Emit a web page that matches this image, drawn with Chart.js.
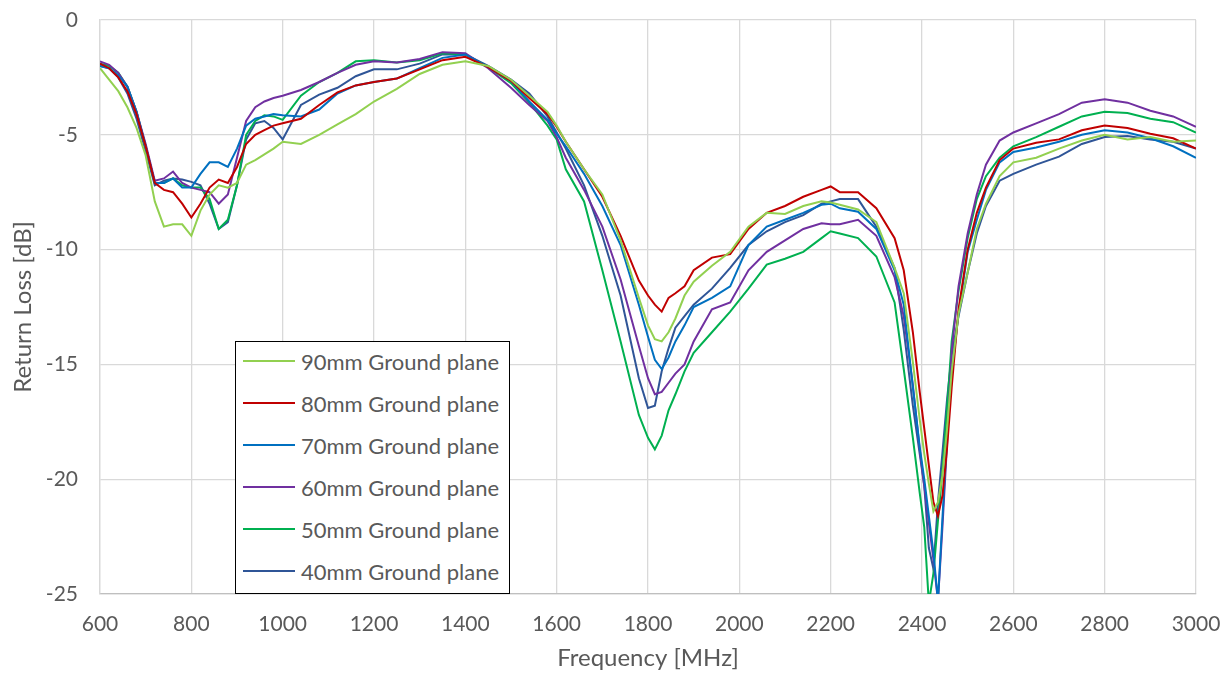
<!DOCTYPE html>
<html>
<head>
<meta charset="utf-8">
<script src="https://cdn.jsdelivr.net/npm/chart.js@4.4.1/dist/chart.umd.min.js"></script>
<style>
  html, body { margin:0; padding:0; background:#fff; }
  #wrap { position:relative; width:1231px; height:677px; }
  #legend {
    position:absolute; left:235px; top:341px; width:275px; height:253px;
    background:#fff; border:1.5px solid #000; box-sizing:border-box;
    font-family:'Lato', sans-serif; font-size:22px; color:#595959;
    padding-top:0;
  }
  .row { display:flex; align-items:center; height:42px; }
  .row:first-child { margin-top:-2px; }
  .swatch { width:52px; height:2px; margin-left:7px; margin-right:6px; }
</style>
</head>
<body>
<div id="wrap">
  <canvas id="chart" width="1231" height="677"></canvas>
  <div id="legend"></div>
</div>
<script>
// Return loss vs frequency for different ground plane lengths

const freqMHz = [600,620,640,660,680,700,720,740,760,780,800,820,840,860,880,900,920,940,960,980,1000,
  1040,1080,1120,1160,1200,1250,1300,1350,1400,1450,1500,1540,1580,1600,1620,1660,1700,1740,1780,1800,
  1815,1830,1845,1860,1880,1900,1940,1980,2020,2060,2100,2140,2180,2200,2220,2260,2300,2340,2360,2380,
  2395,2405,2415,2425,2435,2445,2455,2465,2480,2500,2520,2540,2570,2600,2650,2700,2750,2800,2850,2900,2950,3000];

const gp90 = [-2.1,-2.6,-3.1,-3.8,-4.7,-5.9,-7.9,-9.0,-8.9,-8.9,-9.4,-8.3,-7.6,-7.2,-7.3,-7.1,-6.3,-6.1,-5.85,-5.6,-5.3,
  -5.4,-5.0,-4.55,-4.1,-3.55,-3.0,-2.35,-1.95,-1.8,-2.0,-2.6,-3.3,-4.0,-4.6,-5.3,-6.5,-7.6,-9.6,-12.1,-13.3,
  -13.9,-14.0,-13.6,-13.0,-12.0,-11.4,-10.7,-10.1,-9.0,-8.4,-8.45,-8.1,-7.9,-7.95,-8.05,-8.25,-8.8,-10.8,-11.9,-14.9,
  -17.4,-18.9,-20.2,-21.4,-21.0,-19.8,-17.8,-15.3,-12.8,-11.0,-9.1,-8.0,-6.8,-6.2,-6.0,-5.6,-5.25,-5.0,-5.2,-5.1,-5.3,-5.25];

const gp80 = [-1.9,-2.1,-2.5,-3.1,-4.1,-5.5,-7.1,-7.4,-7.5,-8.0,-8.6,-8.0,-7.3,-6.95,-7.1,-6.4,-5.4,-5.0,-4.8,-4.6,-4.5,
  -4.3,-3.7,-3.15,-2.85,-2.7,-2.55,-2.15,-1.75,-1.6,-2.05,-2.65,-3.4,-4.1,-4.65,-5.3,-6.5,-7.7,-9.4,-11.35,-12.0,
  -12.4,-12.7,-12.1,-11.9,-11.6,-10.9,-10.35,-10.2,-9.1,-8.4,-8.1,-7.7,-7.4,-7.25,-7.5,-7.5,-8.2,-9.5,-10.9,-13.6,
  -16.2,-17.8,-19.4,-21.0,-21.6,-20.7,-18.6,-16.0,-12.6,-10.0,-8.4,-7.3,-6.1,-5.6,-5.35,-5.2,-4.8,-4.6,-4.7,-4.95,-5.15,-5.6];

const gp70 = [-2.0,-2.1,-2.4,-2.9,-4.0,-5.5,-7.1,-7.1,-6.9,-7.3,-7.3,-6.7,-6.2,-6.2,-6.4,-5.6,-4.6,-4.3,-4.2,-4.1,-4.15,
  -4.2,-3.9,-3.2,-2.85,-2.7,-2.55,-2.1,-1.65,-1.5,-2.05,-2.65,-3.55,-4.35,-4.95,-5.5,-6.7,-8.1,-9.8,-12.4,-13.8,
  -14.8,-15.2,-14.7,-14.0,-13.3,-12.5,-12.1,-11.6,-9.8,-9.0,-8.7,-8.4,-8.05,-8.0,-8.2,-8.35,-9.1,-10.9,-12.4,-16.0,
  -18.6,-20.0,-21.6,-23.2,-25.3,-21.6,-18.1,-15.4,-12.8,-10.1,-8.7,-7.4,-6.2,-5.75,-5.55,-5.3,-5.0,-4.8,-4.9,-5.15,-5.5,-6.0];

const gp60 = [-1.8,-1.95,-2.3,-2.9,-4.0,-5.4,-7.0,-6.9,-6.6,-7.1,-7.3,-7.4,-7.5,-8.0,-7.6,-6.0,-4.4,-3.8,-3.55,-3.4,-3.3,
  -3.05,-2.7,-2.3,-1.95,-1.8,-1.85,-1.7,-1.4,-1.45,-2.1,-2.95,-3.7,-4.4,-5.1,-6.0,-7.4,-9.0,-11.3,-14.2,-15.6,
  -16.3,-16.2,-15.8,-15.4,-15.0,-14.0,-12.6,-12.3,-10.9,-10.1,-9.6,-9.1,-8.85,-8.9,-8.9,-8.7,-9.4,-11.2,-12.9,-15.9,
  -18.7,-20.3,-21.9,-23.5,-25.3,-22.0,-18.4,-14.4,-11.6,-9.3,-7.6,-6.3,-5.25,-4.9,-4.5,-4.1,-3.6,-3.45,-3.6,-3.95,-4.2,-4.65];

const gp50 = [-1.9,-2.0,-2.3,-2.9,-4.0,-5.5,-7.1,-7.1,-6.9,-7.2,-7.3,-7.3,-7.8,-9.1,-8.7,-7.2,-5.0,-4.4,-4.15,-4.2,-4.35,
  -3.3,-2.7,-2.3,-1.8,-1.75,-1.85,-1.75,-1.45,-1.5,-2.05,-2.75,-3.6,-4.6,-5.2,-6.5,-7.9,-10.9,-14.0,-17.2,-18.2,
  -18.7,-18.1,-17.0,-16.3,-15.3,-14.5,-13.6,-12.7,-11.7,-10.65,-10.4,-10.1,-9.5,-9.2,-9.3,-9.5,-10.3,-12.3,-15.2,-18.2,
  -20.6,-22.1,-25.4,-24.1,-21.8,-19.6,-16.9,-14.0,-11.8,-9.5,-7.8,-6.8,-6.0,-5.5,-5.1,-4.65,-4.2,-4.0,-4.05,-4.3,-4.45,-4.9];

const gp40 = [-2.0,-2.1,-2.5,-3.2,-4.3,-5.7,-7.2,-7.0,-6.9,-6.95,-7.05,-7.2,-8.0,-9.1,-8.8,-7.2,-5.2,-4.5,-4.4,-4.7,-5.2,
  -3.7,-3.25,-2.95,-2.45,-2.15,-2.15,-1.9,-1.5,-1.5,-2.0,-2.6,-3.2,-4.2,-4.9,-5.6,-7.2,-9.4,-12.0,-15.6,-16.9,
  -16.8,-15.3,-14.3,-13.4,-12.9,-12.4,-11.7,-10.8,-9.8,-9.2,-8.8,-8.5,-8.0,-7.9,-7.8,-7.8,-9.0,-10.8,-13.5,-16.8,
  -18.9,-20.3,-23.0,-23.9,-21.0,-18.8,-16.5,-14.6,-12.9,-11.0,-9.3,-8.1,-7.0,-6.7,-6.3,-5.95,-5.4,-5.1,-5.05,-5.2,-5.3,-5.6];

const seriesNames  = ['90mm Ground plane','80mm Ground plane','70mm Ground plane','60mm Ground plane','50mm Ground plane','40mm Ground plane'];
const seriesValues = [gp90, gp80, gp70, gp60, gp50, gp40];
const seriesColors = ['#92D050','#C00000','#0070C0','#7030A0','#00B050','#2F5597'];

const xTicks = { min:600, max:3000, step:200 };
const yTicks = { min:-25, max:0, step:5 };

const fonte  = { family:"'Lato', sans-serif", size:21 };
const fonteT = { family:"'Lato', sans-serif", size:24 };
const cinza = '#595959';

const datasets = seriesNames.map((nome, i) => ({
  label: nome,
  data: freqMHz.map((f, j) => ({ x:f, y:seriesValues[i][j] })),
  borderColor: seriesColors[i],
  backgroundColor: seriesColors[i],
  borderWidth: 2,
  pointRadius: 0,
  tension: 0,
  fill: false
}));

new Chart(document.getElementById('chart').getContext('2d'), {
  type: 'line',
  data: { datasets },
  options: {
    responsive: false,
    animation: false,
    layout: { padding: { top:20, right:35, left:0, bottom:0 } },
    plugins: { legend: { display:false }, tooltip: { enabled:false } },
    scales: {
      x: {
        type: 'linear', min:xTicks.min, max:xTicks.max,
        ticks: { stepSize:xTicks.step, font:fonte, color:cinza, padding:18, maxRotation:0, callback: v => String(v) },
        grid: { color:'#D9D9D9', lineWidth:1.3, drawTicks:false },
        border: { color:'#BFBFBF', width:1.3 },
        title: { display:true, text:'Frequency [MHz]', font:fonteT, color:cinza, padding:{ top:0, bottom:4 } },
        afterFit: s => { s.height = 83; s.paddingLeft = 0; s.paddingRight = 0; }
      },
      y: {
        min:yTicks.min, max:yTicks.max,
        ticks: { stepSize:yTicks.step, font:fonte, color:cinza, padding:22, callback: v => String(v) },
        grid: { color:'#D9D9D9', lineWidth:1.3, drawTicks:false },
        border: { color:'#D9D9D9', width:1.3 },
        title: { display:true, text:'Return Loss [dB]', font:fonteT, color:cinza, padding:{ top:9, bottom:0 } },
        afterFit: s => { s.width = 100; s.paddingTop = 0; s.paddingBottom = 0; }
      }
    }
  }
});

// legenda desenhada por cima do gráfico, como no original
document.getElementById('legend').innerHTML = seriesNames.map((nome, i) => `
  <div class="row"><span class="swatch" style="background:${seriesColors[i]}"></span><span>${nome}</span></div>`).join('');
</script>
</body>
</html>
